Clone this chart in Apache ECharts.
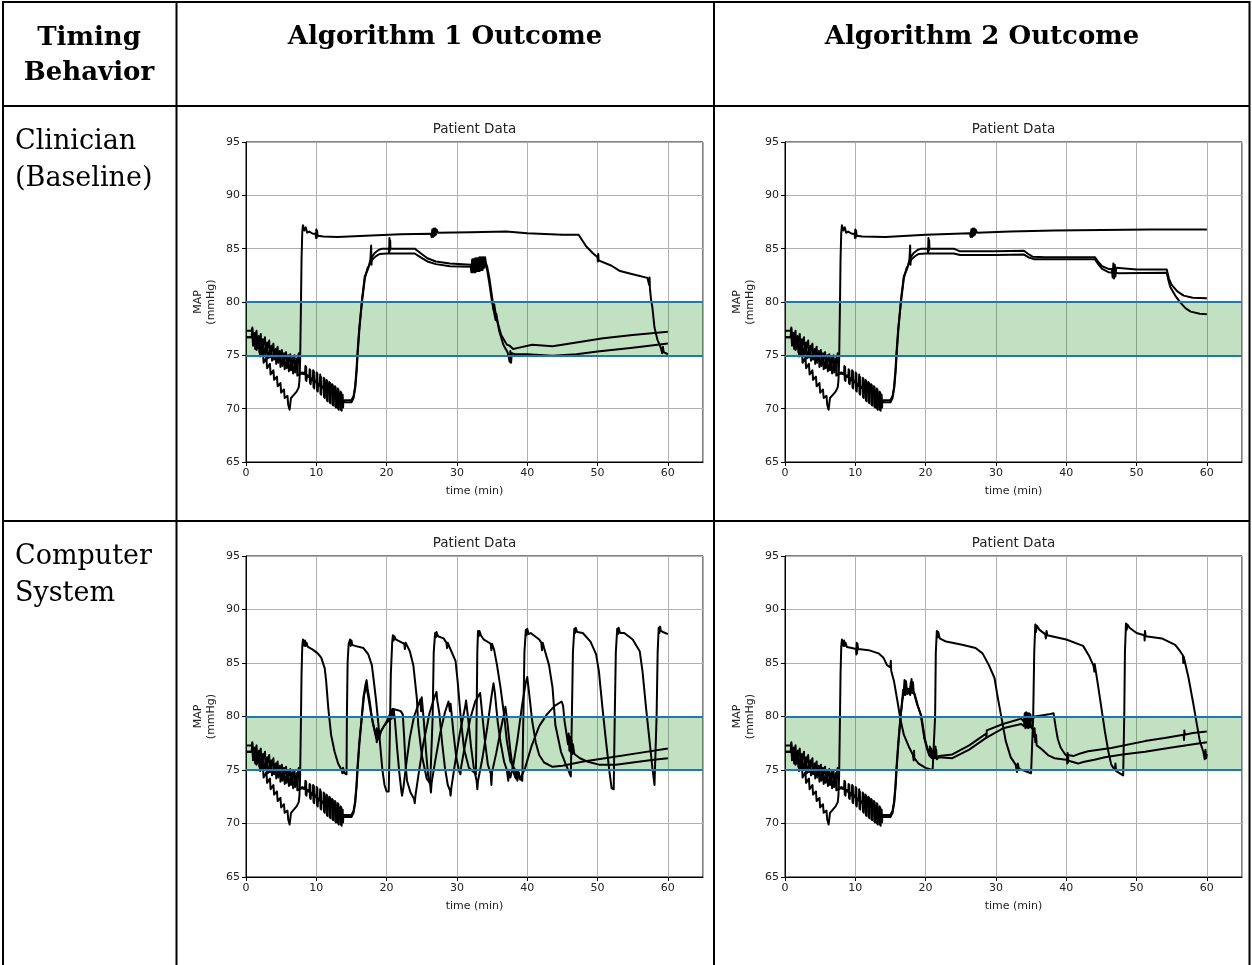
<!DOCTYPE html>
<html><head><meta charset="utf-8">
<script src="https://cdn.jsdelivr.net/npm/echarts@6/dist/echarts.min.js"></script>
<style>html,body{margin:0;padding:0;background:#fff}#c{width:1252px;height:965px}</style>
</head><body><div id="c"></div>
<script>
// ---- tick labels / texts ----
var xTicks = [0, 10, 20, 30, 40, 50, 60];
var yTicks = [65, 70, 75, 80, 85, 90, 95];
var colHeaders = ['Algorithm 1 Outcome', 'Algorithm 2 Outcome'];
var rowLabels = [['Clinician', '(Baseline)'], ['Computer', 'System']];
var targetBand = [75, 80];

// ---- shared early portion of each patient (time min, MAP mmHg) ----
var earlyA = [[0,76.7],[0.8,76.7],[0.9,77.5],[1.0,76.0],[1.4,76.9],[1.5,75.5],[1.9,76.2],[2.0,74.9],[2.4,75.5],[2.5,74.3],[2.9,74.8],[3.0,73.8],[3.4,74.2],[3.5,73.2],[3.9,73.6],[4.0,72.7],[4.4,73.0],[4.5,72.1],[4.9,72.4],[5.0,71.5],[5.4,71.8],[5.5,71.0],[5.9,71.2],[6.0,70.4],[6.2,69.9],[6.4,71.0],[6.8,71.3],[7.2,71.6],[7.5,72.0],[7.6,72.6],[7.7,74.5],[7.8,79],[7.9,84],[8.0,86.5],[8.1,87.2]];
var earlyB = [[0,77.3],[0.8,77.3],[0.9,77.6],[1.0,75.9],[1.5,77.3],[1.6,75.7],[2.1,77.0],[2.2,75.4],[2.7,76.7],[2.8,75.1],[3.3,76.4],[3.4,74.8],[3.9,76.1],[4.0,74.6],[4.5,75.8],[4.6,74.3],[5.1,75.5],[5.2,74.0],[5.7,75.3],[5.8,73.8],[6.3,75.1],[6.4,73.6],[6.9,75.0],[7.0,73.4],[7.5,75.2],[7.6,73.2],[8.0,73.4],[8.4,73.3],[8.45,74.0],[8.5,72.7],[8.55,73.2],[9.0,73.0],[9.05,73.7],[9.1,72.4],[9.15,72.9],[9.5,72.75],[9.55,73.6],[9.6,72.0],[9.65,72.7],[10.0,72.5],[10.05,73.4],[10.1,71.7],[10.15,72.4],[10.5,72.25],[10.55,73.2],[10.6,71.4],[10.65,72.1],[11.0,72.0],[11.05,72.9],[11.1,71.1],[11.15,71.9],[11.4,71.8],[11.45,72.7],[11.5,70.8],[11.55,71.7],[11.8,71.6],[11.85,72.5],[11.9,70.6],[11.95,71.5],[12.2,71.4],[12.25,72.3],[12.3,70.4],[12.35,71.3],[12.6,71.2],[12.65,72.1],[12.7,70.2],[12.75,71.1],[13.0,71.0],[13.05,71.9],[13.1,70.0],[13.15,71.0],[13.4,70.9],[13.45,71.6],[13.5,69.9],[13.55,70.9],[13.7,70.85],[13.75,71.3],[13.8,70.1],[13.85,70.8],[14.2,70.8],[15.0,70.8],[15.3,71.2],[15.5,72.0],[15.7,73.5],[15.85,75.2],[16.1,77.5]];
var earlyC = [[0,76.7],[0.8,76.7],[1.2,77.1],[1.3,75.6],[1.8,76.8],[1.9,75.3],[2.4,76.5],[2.5,75.0],[3.0,76.2],[3.1,74.7],[3.6,75.9],[3.7,74.5],[4.2,75.6],[4.3,74.2],[4.8,75.4],[4.9,73.9],[5.4,75.2],[5.5,73.7],[6.0,75.0],[6.1,73.5],[6.6,74.8],[6.7,73.3],[7.2,74.7],[7.3,73.1],[7.9,73.3],[8.5,73.2],[8.55,73.9],[8.6,72.6],[8.65,73.1],[9.1,72.9],[9.15,73.6],[9.2,72.3],[9.25,72.8],[9.6,72.6],[9.65,73.5],[9.7,71.9],[9.75,72.6],[10.1,72.4],[10.15,73.3],[10.2,71.6],[10.25,72.3],[10.6,72.1],[10.65,73.0],[10.7,71.3],[10.75,72.0],[11.1,71.9],[11.15,72.8],[11.2,71.0],[11.25,71.8],[11.5,71.7],[11.55,72.6],[11.6,70.7],[11.65,71.6],[11.9,71.5],[11.95,72.4],[12.0,70.5],[12.05,71.4],[12.3,71.3],[12.35,72.2],[12.4,70.3],[12.45,71.2],[12.7,71.1],[12.75,72.0],[12.8,70.1],[12.85,71.0],[13.1,70.9],[13.15,71.8],[13.2,69.9],[13.25,70.9],[13.5,70.8],[13.55,71.5],[13.6,69.8],[13.65,70.7],[14.1,70.6],[15.0,70.6],[15.3,71.0],[15.55,72.0],[15.75,73.6],[15.9,75.3],[16.15,77.6]];

// ---- Clinician / Algorithm 1 ----
var c1A = [[8.3,86.7],[8.5,87.0],[8.7,86.5],[9.0,86.6],[9.5,86.4],[9.9,86.4],[9.95,86.0],[10.0,86.8],[10.05,86.0],[10.1,86.7],[10.2,86.2],[11,86.15],[13,86.1],[17,86.2],[22,86.35],[26.3,86.4],[26.4,86.1],[26.5,86.8],[26.6,86.1],[26.7,86.9],[26.8,86.2],[26.9,86.9],[27.0,86.3],[27.1,86.8],[27.3,86.5],[32,86.55],[37,86.6],[40,86.45],[45,86.3],[47.3,86.3],[48.4,85.2],[49.3,84.6],[50.0,84.2],[50.05,83.8],[50.1,84.5],[50.15,83.9],[50.3,84.0],[52,83.4],[53.2,82.9],[55,82.6],[57.1,82.26],[57.3,82.2],[57.35,81.6],[57.4,82.3],[57.45,81.3],[57.6,80.3],[57.8,79.5],[58.1,77.6],[58.5,76.5],[59.0,75.7],[59.2,75.2],[59.3,75.8],[59.4,75.3],[60,75.1]];
var c1B = [[16.5,80.0],[16.9,82.2],[17.3,83.2],[17.5,83.4],[17.7,84.0],[17.8,85.3],[17.85,83.5],[17.9,84.2],[18.3,84.6],[18.9,84.9],[19.4,85.0],[20.3,85.0],[20.35,84.6],[20.4,86.0],[20.45,84.8],[20.5,85.8],[20.55,85.0],[20.7,85.0],[24,85.0],[24.8,84.6],[25.8,84.1],[27,83.8],[29,83.6],[32,83.5],[32.1,82.9],[32.2,84.0],[32.3,82.9],[32.4,84.0],[32.5,82.9],[32.6,84.1],[32.7,83.0],[32.8,84.1],[32.9,83.0],[33.0,84.1],[33.1,83.0],[33.2,84.2],[33.3,83.1],[33.4,84.2],[33.5,83.1],[33.6,84.2],[33.7,83.2],[33.8,84.2],[33.9,83.4],[34.0,84.2],[34.15,83.6],[34.3,83.3],[34.6,82.3],[35.1,80.0],[35.2,79.3],[35.3,79.8],[35.6,78.5],[36.3,76.9],[37.1,76.0],[37.5,75.9],[38.0,75.6],[38.7,75.7],[40.7,76.0],[43.6,75.85],[47,76.2],[50.8,76.6],[55,76.9],[60,77.2]];
var c1C = [[16.5,80.3],[16.9,82.4],[17.3,83.0],[17.6,83.6],[18.0,84.0],[18.5,84.3],[19.0,84.5],[20.0,84.55],[24,84.55],[24.8,84.2],[25.8,83.8],[27,83.55],[29,83.35],[32,83.3],[32.05,82.8],[32.15,83.9],[32.25,82.8],[32.35,83.9],[32.45,82.8],[32.55,84.0],[32.65,82.8],[32.75,84.0],[32.85,82.9],[32.95,84.0],[33.05,82.9],[33.15,84.0],[33.25,82.9],[33.35,84.1],[33.45,83.0],[33.55,84.1],[33.65,83.0],[33.75,84.1],[33.85,83.2],[33.95,84.0],[34.1,83.4],[34.3,83.0],[34.6,81.8],[35.0,80.0],[35.5,78.3],[35.6,78.9],[36.0,77.3],[36.6,76.0],[37.2,75.3],[37.5,74.4],[37.6,75.4],[37.7,74.3],[37.8,75.2],[38.3,75.1],[40,75.1],[43.6,74.95],[47,75.1],[50,75.35],[55,75.7],[60,76.1]];

// ---- Clinician / Algorithm 2 ----
var c2A = [[8.3,86.7],[8.5,87.0],[8.7,86.5],[9.0,86.6],[9.5,86.4],[9.9,86.4],[9.95,86.0],[10.0,86.8],[10.05,86.0],[10.1,86.7],[10.2,86.2],[11,86.15],[14.3,86.1],[20,86.3],[26.3,86.45],[26.4,86.1],[26.5,86.8],[26.6,86.1],[26.7,86.9],[26.8,86.2],[26.9,86.9],[27.0,86.3],[27.1,86.8],[27.3,86.5],[32,86.6],[38.3,86.7],[45,86.75],[52,86.8],[60,86.8]];
var c2B = [[16.5,80.0],[16.9,82.2],[17.3,83.2],[17.5,83.4],[17.7,84.0],[17.8,85.3],[17.85,83.5],[17.9,84.2],[18.3,84.6],[18.9,84.9],[19.4,85.0],[20.3,85.0],[20.35,84.6],[20.4,86.0],[20.45,84.8],[20.5,85.8],[20.55,85.0],[20.7,85.0],[24,85.0],[24.9,84.75],[30,84.75],[34,84.8],[34.6,84.5],[35.2,84.25],[37,84.2],[44.1,84.2],[44.5,83.8],[45.1,83.35],[46.0,83.1],[46.5,83.1],[46.6,82.3],[46.7,83.6],[46.8,82.2],[46.9,83.5],[47.0,82.4],[47.1,83.2],[47.3,83.05],[50,83.05],[54.3,83.05],[54.6,82.2],[55.0,81.6],[55.8,81.0],[56.7,80.6],[58,80.4],[60,80.35]];
var c2C = [[16.5,80.3],[16.9,82.4],[17.3,83.0],[17.6,83.6],[18.0,84.0],[18.5,84.3],[19.0,84.5],[20.0,84.55],[24,84.55],[24.9,84.4],[30,84.4],[34,84.45],[34.6,84.2],[35.5,84.0],[44.1,84.0],[44.6,83.5],[45.1,83.1],[46,82.8],[47.5,82.7],[54.3,82.75],[54.55,82.0],[54.8,81.4],[55.5,80.6],[56.3,79.9],[57.0,79.4],[57.7,79.1],[59,78.9],[60,78.85]];

// ---- Computer System / Algorithm 1 ----
var c3A = [[8.3,86.6],[8.4,87.1],[8.5,86.6],[8.6,86.9],[8.8,86.5],[9.5,86.25],[10.2,85.9],[10.7,85.5],[11.2,84.5],[11.4,83.3],[11.7,80.8],[12.1,78.3],[12.6,76.7],[13.1,75.6],[13.6,75.0],[13.7,74.7],[13.8,75.2],[14.0,74.7],[14.3,74.6],[14.35,80],[14.45,85],[14.6,86.8],[14.8,87.2],[14.9,86.6],[15.0,87.1],[15.1,86.7],[15.5,86.6],[16.7,86.4],[17.4,85.8],[17.9,84.8],[18.2,83.2],[18.5,81.5],[18.8,79.5],[19.1,77.2],[19.4,75.0],[19.7,73.6],[20.0,73.0],[20.3,73.0],[20.45,78],[20.6,84],[20.8,87.0],[20.9,87.6],[21.0,87.1],[21.1,87.5],[21.3,87.2],[21.9,87.0],[22.5,86.8],[22.6,86.3],[22.7,86.9],[23.3,86.1],[23.8,84.8],[24.3,81.7],[24.5,79.2],[25.0,76.4],[25.7,74.2],[26.2,73.75],[26.45,73.7],[26.55,80],[26.7,86],[26.9,87.8],[27.0,87.4],[27.1,87.9],[27.3,87.5],[28.1,87.3],[28.5,86.9],[28.6,86.4],[28.7,86.9],[29.0,86.4],[29.8,85.2],[30.1,83.3],[30.5,80.2],[31.0,77.0],[31.7,75.2],[32.4,74.8],[32.7,74.6],[32.8,80],[32.9,86],[33.0,88.0],[33.1,87.5],[33.2,88.0],[33.4,87.6],[33.8,87.2],[34.8,86.8],[34.9,86.2],[35.0,86.8],[35.3,86.2],[35.7,84.8],[36.2,82.7],[36.7,80.2],[37.1,77.7],[37.6,75.8],[38.3,75.0],[38.4,74.2],[38.5,75.0],[39.0,74.2],[39.3,74.0],[39.45,80],[39.6,86],[39.8,88.1],[39.9,87.6],[40.0,88.2],[40.2,87.7],[40.5,87.8],[41.7,87.2],[42.0,86.9],[42.1,86.2],[42.2,86.9],[42.4,86.4],[43.1,84.8],[43.6,82.7],[44.0,79.2],[44.8,76.7],[45.5,75.5],[46.2,74.4],[46.35,80],[46.5,86],[46.7,88.2],[46.8,87.8],[46.9,88.3],[47.1,87.9],[47.9,87.8],[49.0,87.0],[49.8,85.8],[50.2,84.2],[50.7,80.8],[51.2,77.7],[51.7,74.8],[52.0,73.3],[52.3,73.2],[52.45,80],[52.6,86],[52.8,88.2],[52.9,87.7],[53.0,88.3],[53.2,87.8],[53.8,87.8],[55.0,87.2],[56.0,86.1],[56.4,84.2],[56.9,80.8],[57.4,77.7],[57.8,75.2],[58.1,73.6],[58.25,73.5],[58.4,80],[58.55,86],[58.7,88.3],[58.8,87.8],[58.9,88.4],[59.0,88.0],[59.3,87.9],[60,87.7]];
var c3B = [[16.4,79.5],[16.7,81.8],[17.0,83.0],[17.15,83.4],[17.3,82.6],[17.6,81.4],[18.0,79.5],[18.3,78.6],[18.5,78.0],[18.6,78.9],[18.7,77.8],[18.8,78.7],[19.0,78.4],[19.5,79.0],[20.0,79.4],[20.5,79.8],[20.8,80.6],[20.9,79.9],[21.0,80.7],[21.2,79.5],[21.5,77.0],[21.8,74.8],[22.1,73.0],[22.2,72.6],[22.4,73.4],[22.8,75.6],[23.3,78.0],[23.9,80.0],[24.4,80.9],[24.8,81.6],[24.9,80.5],[25.0,81.8],[25.3,79.5],[25.6,76.8],[25.9,74.5],[26.2,73.6],[26.3,72.9],[26.4,73.8],[26.9,75.8],[27.6,78.4],[28.3,80.4],[28.8,81.4],[29.0,80.5],[29.1,81.2],[29.5,78.5],[29.9,76.2],[30.3,74.9],[30.5,74.6],[30.6,75.3],[31.2,77.5],[31.9,79.8],[32.6,81.4],[33.3,82.2],[33.6,80.2],[34.0,77.6],[34.4,75.5],[34.8,74.7],[34.9,73.6],[35.0,74.8],[35.6,76.6],[36.3,79.0],[36.9,80.9],[37.2,79.3],[37.6,76.8],[38.0,74.9],[38.3,74.3],[38.4,75.0],[38.6,74.0],[38.8,74.8],[39.0,74.1],[39.7,75.2],[40.6,77.2],[41.7,79.1],[42.8,80.2],[43.9,81.0],[44.9,81.4],[45.1,81.0],[45.3,79.6],[45.6,78.3],[45.8,77.4],[45.9,78.4],[46.0,76.8],[46.1,78.1],[46.2,76.6],[46.3,77.8],[46.4,76.5],[46.5,77.4],[46.7,76.5],[47.5,76.1],[48.5,75.8],[50.2,75.5],[52.6,75.5],[55,75.7],[58,75.95],[60,76.1]];
var c3C = [[16.45,79.8],[16.8,82.0],[17.1,82.9],[17.4,81.8],[17.8,80.2],[18.2,79.0],[18.5,78.3],[18.6,77.6],[18.7,78.6],[18.9,77.9],[19.2,78.6],[19.8,79.3],[20.3,79.9],[20.6,80.5],[20.7,79.8],[20.8,80.7],[21.5,80.6],[22.0,80.5],[22.3,80.2],[22.5,78.0],[22.7,75.5],[22.9,74.0],[23.4,72.9],[23.9,72.3],[24.0,71.9],[24.1,72.6],[24.5,74.4],[25.2,77.4],[26.1,80.3],[26.8,81.8],[27.1,82.3],[27.2,81.5],[27.5,80.3],[27.9,77.5],[28.3,75.2],[28.7,73.6],[29.0,73.1],[29.1,72.6],[29.2,73.3],[29.7,75.5],[30.4,78.4],[31.2,81.0],[31.3,81.5],[31.6,79.8],[32.0,77.2],[32.4,75.2],[32.8,74.0],[32.9,73.2],[33.0,74.0],[33.6,76.0],[34.3,78.9],[34.9,81.8],[35.2,83.1],[35.4,82.2],[35.8,79.5],[36.2,77.6],[36.7,75.8],[37.1,75.0],[37.3,74.0],[37.4,74.9],[37.6,74.3],[38.0,75.4],[38.6,77.8],[39.3,81.2],[39.8,83.2],[40.0,83.7],[40.3,82.0],[40.7,79.6],[41.2,77.6],[41.7,76.4],[42.4,75.7],[43.6,75.3],[45,75.4],[48,75.8],[52,76.2],[56,76.6],[60,77.0]];

// ---- Computer System / Algorithm 2 ----
var c4A = [[8.3,86.6],[8.4,87.1],[8.5,86.6],[8.6,86.9],[8.8,86.5],[9.5,86.4],[10.1,86.3],[10.15,85.8],[10.2,86.9],[10.25,85.9],[10.3,86.8],[10.4,86.3],[11.9,86.2],[13.3,85.9],[14.0,85.5],[14.5,84.8],[15.0,84.6],[15.05,85.2],[15.1,84.3],[15.5,83.3],[16.0,81.4],[16.4,79.8],[16.9,78.3],[17.6,77.2],[18.2,76.4],[18.3,75.9],[18.35,76.8],[18.4,76.1],[19.0,75.6],[20.0,75.2],[21.0,75.0],[21.25,74.95],[21.35,80],[21.45,86],[21.6,88.0],[21.7,87.4],[21.8,87.9],[22.0,87.3],[22.9,87.0],[25.2,86.7],[27.1,86.4],[28.1,85.9],[29.0,84.8],[29.8,83.6],[30.2,82.0],[30.7,80.2],[31.4,77.7],[32.1,76.2],[32.8,75.5],[33.0,74.8],[33.1,75.6],[33.3,75.1],[35.0,74.7],[35.2,74.6],[35.3,80],[35.45,86],[35.6,88.6],[35.7,87.9],[35.8,88.5],[36.2,88.1],[37.0,87.7],[37.1,87.3],[37.2,88.0],[37.3,87.6],[40.0,87.2],[42.4,86.6],[43.3,85.6],[43.9,84.7],[44.0,84.2],[44.05,84.9],[44.5,83.0],[45.0,80.8],[45.5,78.6],[46.0,76.7],[46.4,75.5],[46.9,75.0],[47.0,75.6],[47.1,74.9],[48.1,74.5],[48.25,80],[48.35,86],[48.5,88.7],[48.6,88.1],[48.7,88.6],[49.0,88.3],[50,87.8],[51.1,87.6],[51.15,87.1],[51.2,88.0],[51.3,87.5],[53.6,87.3],[55.5,86.7],[56.2,86.1],[56.6,85.7],[56.65,85.0],[56.7,85.6],[57.4,83.6],[58.1,81.1],[58.6,79.2],[59.0,77.7],[59.5,76.7],[59.7,76.0],[59.8,76.9],[59.9,76.1],[60,76.5]];
var c4B = [[16.4,79.8],[16.7,81.5],[16.9,82.3],[17.0,83.4],[17.1,82.0],[17.2,83.3],[17.4,82.1],[17.6,82.5],[17.8,82.0],[18.0,83.5],[18.1,82.2],[18.2,83.2],[18.3,82.3],[18.8,81.1],[19.3,80.2],[19.8,78.0],[20.2,77.0],[20.5,76.4],[20.6,77.2],[20.7,76.2],[20.8,77.0],[21.0,76.3],[21.3,76.25],[21.4,77.2],[21.5,76.1],[21.9,76.3],[23.8,76.45],[26.2,77.3],[28.6,78.4],[28.65,78.0],[28.7,78.7],[31,79.3],[33.6,79.8],[34.0,79.5],[34.1,80.3],[34.2,79.3],[34.3,80.4],[34.4,79.2],[34.5,80.3],[34.6,79.3],[34.7,80.3],[34.8,79.4],[34.9,80.2],[35.0,79.6],[35.5,80.0],[36.5,80.1],[37.5,80.2],[38.2,80.3],[38.5,79.0],[38.8,77.9],[39.2,77.1],[39.8,76.5],[40.1,76.3],[40.15,75.6],[40.2,76.6],[40.25,75.7],[40.3,76.4],[41.0,76.3],[42.0,76.55],[43.1,76.75],[46.4,77.05],[51.2,77.7],[54,78.0],[56.7,78.3],[56.75,77.8],[56.8,78.7],[56.85,78.3],[58,78.45],[60,78.6]];
var c4C = [[16.45,80.0],[16.8,82.5],[17.0,82.3],[17.1,83.3],[17.3,82.2],[17.5,82.6],[17.7,82.1],[17.9,83.2],[18.1,82.4],[18.4,82.2],[18.9,81.0],[19.4,80.0],[19.9,77.9],[20.3,76.9],[20.6,76.3],[20.7,77.0],[20.9,76.1],[21.1,76.8],[21.3,76.1],[21.5,76.9],[21.6,76.0],[21.9,76.2],[23.8,76.1],[26.2,76.9],[28.6,78.0],[31,78.9],[33.6,79.3],[34.0,79.1],[34.1,79.9],[34.2,78.9],[34.3,80.1],[34.4,79.0],[34.5,80.0],[34.6,78.9],[34.7,80.1],[34.8,79.0],[34.9,79.8],[35.0,79.0],[35.3,78.8],[35.4,78.1],[35.5,78.9],[35.6,77.6],[35.7,78.3],[35.8,77.3],[36.4,77.0],[37.4,76.4],[38.3,76.1],[40,75.95],[40.7,75.8],[41.7,75.6],[42.4,75.75],[44,75.95],[45.5,76.2],[48,76.45],[51.2,76.7],[55,77.1],[60,77.6]];

var panels = [
  {A: c1A, B: c1B, C: c1C},
  {A: c2A, B: c2B, C: c2C},
  {A: c3A, B: c3B, C: c3C},
  {A: c4A, B: c4B, C: c4C}
];

// ---- layout ----
var grids = [
  {left: 246, top: 142, width: 457, height: 320},
  {left: 785, top: 142, width: 457, height: 320},
  {left: 246, top: 556, width: 457, height: 321},
  {left: 785, top: 556, width: 457, height: 321}
];
var sans = 'DejaVu Sans';
var serif = 'DejaVu Serif';
var txt = '#222';

var option = {animation: false, grid: [], xAxis: [], yAxis: [], series: [], graphic: []};

grids.forEach(function (g, i) {
  option.grid.push({left: g.left, top: g.top, width: g.width, height: g.height,
    show: true, borderColor: '#000', borderWidth: 1, backgroundColor: 'transparent'});
  option.xAxis.push({type: 'value', gridIndex: i, min: 0, max: 65, interval: 10,
    name: 'time (min)', nameLocation: 'middle', nameGap: 24,
    nameTextStyle: {fontFamily: sans, fontSize: 11, color: txt},
    axisLine: {lineStyle: {color: '#000', width: 1}},
    axisTick: {show: true, length: 4, lineStyle: {color: '#000'}},
    axisLabel: {fontFamily: sans, fontSize: 11, color: txt, margin: 6, showMaxLabel: false,
      formatter: function (v) { return xTicks.indexOf(v) >= 0 ? String(v) : ''; }},
    splitLine: {show: true, lineStyle: {color: '#b0b0b0', width: 1}}});
  option.yAxis.push({type: 'value', gridIndex: i, min: 65, max: 95, interval: 5,
    name: 'MAP\n(mmHg)', nameLocation: 'middle', nameGap: 28,
    nameTextStyle: {fontFamily: sans, fontSize: 11, color: txt, lineHeight: 13, align: 'center'},
    axisLine: {show: true, lineStyle: {color: '#000', width: 1}},
    axisTick: {show: true, length: 4, lineStyle: {color: '#000'}},
    axisLabel: {fontFamily: sans, fontSize: 11, color: txt, margin: 6,
      formatter: function (v) { return yTicks.indexOf(v) >= 0 ? String(v) : ''; }},
    splitLine: {show: true, lineStyle: {color: '#b0b0b0', width: 1}}});
  // target band
  option.series.push({type: 'line', xAxisIndex: i, yAxisIndex: i, data: [[0, targetBand[0]]],
    showSymbol: false, symbol: 'none', lineStyle: {opacity: 0}, z: 1, silent: true,
    markArea: {silent: true, itemStyle: {color: 'rgba(0,128,0,0.24)'},
      data: [[{yAxis: targetBand[0]}, {yAxis: targetBand[1]}]]},
    markLine: {silent: true, symbol: ['none', 'none'], label: {show: false},
      lineStyle: {color: '#1f77b4', width: 1.8, type: 'solid'},
      data: [{yAxis: targetBand[0]}, {yAxis: targetBand[1]}]}});
  var p = panels[i];
  [earlyA.concat(p.A), earlyB.concat(p.B), earlyC.concat(p.C)].forEach(function (d) {
    option.series.push({type: 'line', xAxisIndex: i, yAxisIndex: i, data: d,
      showSymbol: false, symbol: 'none', z: 3, silent: true,
      lineStyle: {color: '#000', width: 2, join: 'round'}});
  });
  option.graphic.push({type: 'text', x: g.left + g.width / 2, y: g.top - 13,
    style: {text: 'Patient Data', font: '13.5px "' + sans + '"', fill: txt,
      align: 'center', verticalAlign: 'middle'}});
});

// ---- table lines ----
function hline(y, x1, x2) { return {type: 'line', shape: {x1: x1, y1: y, x2: x2, y2: y}, style: {stroke: '#000', lineWidth: 2}, z: 10}; }
function vline(x, y1, y2) { return {type: 'line', shape: {x1: x, y1: y1, x2: x, y2: y2}, style: {stroke: '#000', lineWidth: 2}, z: 10}; }
option.graphic.push(hline(2, 2, 1250), hline(106, 2, 1250), hline(521, 2, 1250));
option.graphic.push(vline(3, 1, 965), vline(176.5, 1, 965), vline(714, 1, 965), vline(1249.5, 1, 965));

// ---- header texts ----
var hdrFont = 'bold 26px "' + serif + '"';
option.graphic.push({type: 'text', x: 89, y: 38, style: {text: 'Timing', font: hdrFont, fill: '#000', align: 'center', verticalAlign: 'middle'}});
option.graphic.push({type: 'text', x: 89, y: 73, style: {text: 'Behavior', font: hdrFont, fill: '#000', align: 'center', verticalAlign: 'middle'}});
option.graphic.push({type: 'text', x: 445, y: 37, style: {text: colHeaders[0], font: hdrFont, fill: '#000', align: 'center', verticalAlign: 'middle'}});
option.graphic.push({type: 'text', x: 982, y: 37, style: {text: colHeaders[1], font: hdrFont, fill: '#000', align: 'center', verticalAlign: 'middle'}});
var rowFont = '27px "' + serif + '"';
var rowY = [[142, 179], [557, 594]];
rowLabels.forEach(function (lab, r) {
  lab.forEach(function (s, k) {
    option.graphic.push({type: 'text', x: 15, y: rowY[r][k], style: {text: s, font: rowFont, fill: '#000', align: 'left', verticalAlign: 'middle'}});
  });
});

var chart = echarts.init(document.getElementById('c'), null, {renderer: 'canvas'});
chart.setOption(option);
</script></body></html>
